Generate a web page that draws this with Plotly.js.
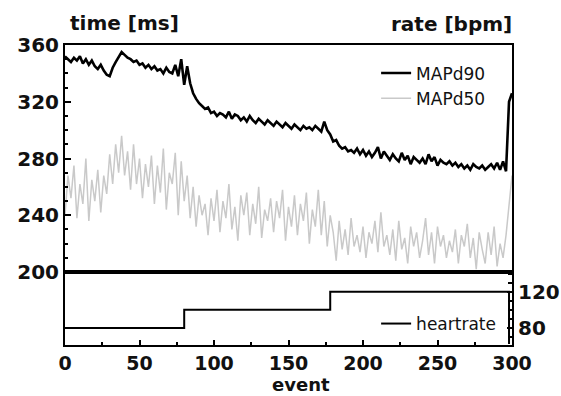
<!DOCTYPE html>
<html>
<head>
<meta charset="utf-8">
<script src="https://cdn.plot.ly/plotly-3.0.1.min.js"></script>
<style>html,body{margin:0;padding:0;background:#fff;}#chart{width:561px;height:396px;}</style>
</head>
<body>
<div id="chart"></div>
<script>
// event index (every 2nd event)
const events = [];
for (let e = 0; e <= 300; e += 2) events.push(e);

// MAPd90 [ms]
const mapd90 = [
  352,350,348,351,349,352,347,350,346,349,
  345,343,346,342,339,338,344,348,352,355,
  353,351,350,348,349,346,347,344,346,343,
  345,342,343,340,344,341,340,346,338,350,
  332,345,333,326,322,319,317,315,316,312,
  313,310,312,311,309,313,308,311,310,307,
  309,306,310,307,305,308,306,304,307,305,
  303,306,304,302,305,303,301,304,302,300,
  303,301,302,300,303,301,299,306,300,297,
  292,293,289,287,288,285,286,284,287,283,
  286,282,285,281,284,288,280,285,282,279,
  283,280,278,284,279,282,276,281,279,277,
  280,276,283,278,281,275,279,277,276,278,
  275,277,274,276,273,275,272,276,274,273,
  275,272,274,276,273,277,272,278,271,320,
  326
];

// MAPd50 [ms]
const mapd50 = [
  240,268,252,275,238,262,248,280,236,265,
  250,272,242,268,255,283,262,290,270,296,
  268,285,258,290,262,280,252,276,260,282,
  248,275,256,287,244,270,262,284,240,278,
  250,268,238,260,232,254,240,248,226,252,
  236,258,228,250,238,262,230,246,222,254,
  240,256,226,248,234,260,224,244,236,252,
  228,250,238,258,222,246,232,254,226,248,
  236,256,220,244,232,258,226,250,218,240,
  228,208,236,216,230,212,238,218,226,214,
  232,210,228,220,236,214,242,218,226,212,
  230,208,236,216,224,206,232,218,228,210,
  222,238,212,228,206,232,218,226,210,222,
  214,230,206,226,218,234,210,224,202,228,
  216,206,228,212,232,204,220,210,226,250,
  268
];

// heart rate [bpm] step changes
const hrEvents = [0, 80, 178, 298];
const heartrate = [80, 100, 120, 62];

// tick labels
const msTicks = [200, 240, 280, 320, 360];
const bpmTicks = [80, 120];
const eventTicks = [0, 50, 100, 150, 200, 250, 300];

const FONT = "DejaVu Sans, Liberation Sans, Arial, sans-serif";
const tickFont = {family: FONT, size: 20, color: "#111", weight: "bold"};
const xTickFont = {family: FONT, size: 19, color: "#111", weight: "bold"};
const titleFont = {family: FONT, size: 20, color: "#111", weight: "bold"};

const data = [
  {x: events, y: mapd50, name: "MAPd50", type: "scatter", mode: "lines", legendrank: 2,
   xaxis: "x2", yaxis: "y", line: {color: "#c9c9c9", width: 1.5}, legend: "legend"},
  {x: events, y: mapd90, name: "MAPd90", type: "scatter", mode: "lines", legendrank: 1,
   xaxis: "x2", yaxis: "y", line: {color: "#000", width: 2.6}, legend: "legend"},
  {x: hrEvents, y: heartrate, name: "heartrate", type: "scatter", mode: "lines",
   xaxis: "x", yaxis: "y2", line: {color: "#000", width: 2, shape: "hv"}, legend: "legend2"}
];

const split = 0.2433;
const layout = {
  width: 561, height: 396,
  margin: {l: 65, r: 49, t: 45, b: 51},
  paper_bgcolor: "#fff", plot_bgcolor: "#fff",
  font: {family: FONT, color: "#111"},
  xaxis: {
    domain: [0, 1], anchor: "y2", range: [0, 300],
    tickvals: eventTicks, ticks: "inside", ticklen: 5, tickwidth: 2, tickcolor: "#000",
    minor: {dtick: 25, tick0: 0, ticks: "inside", ticklen: 3, tickwidth: 2, tickcolor: "#000", showgrid: false},
    showline: true, linecolor: "#000", linewidth: 2, mirror: true,
    showgrid: false, zeroline: false, tickfont: xTickFont, ticklabelstandoff: 0
  },
  xaxis2: {
    domain: [0, 1], anchor: "y", matches: "x", range: [0, 300],
    showticklabels: false, ticks: "",
    showline: true, linecolor: "#000", linewidth: 2, mirror: true,
    showgrid: false, zeroline: false
  },
  yaxis: {
    domain: [split, 1], anchor: "x2", range: [200, 360],
    tickvals: msTicks, ticks: "inside", ticklen: 6, tickwidth: 2, tickcolor: "#000",
    minor: {dtick: 10, tick0: 200, ticks: "inside", ticklen: 3, tickwidth: 2, tickcolor: "#000", showgrid: false},
    showline: true, linecolor: "#000", linewidth: 2, mirror: true,
    showgrid: false, zeroline: false, tickfont: tickFont, ticklabelstandoff: 0
  },
  yaxis2: {
    domain: [0, split], anchor: "x", side: "right", range: [61, 142],
    tickvals: bpmTicks, ticks: "inside", ticklen: 5, tickwidth: 2, tickcolor: "#000",
    minor: {dtick: 10, tick0: 60, ticks: "inside", ticklen: 4, tickwidth: 2, tickcolor: "#000", showgrid: false},
    showline: true, linecolor: "#000", linewidth: 2, mirror: true,
    showgrid: false, zeroline: false, tickfont: tickFont, ticklabelstandoff: 0
  },
  legend: {
    x: 0.696, xanchor: "left", y: 0.965, yanchor: "top", traceorder: "normal",
    bgcolor: "rgba(0,0,0,0)", borderwidth: 0,
    font: {family: FONT, size: 17, color: "#111"}, tracegroupgap: 0
  },
  legend2: {
    x: 0.696, xanchor: "left", y: 0.13, yanchor: "top",
    bgcolor: "rgba(0,0,0,0)", borderwidth: 0,
    font: {family: FONT, size: 17, color: "#111"}
  },
  showlegend: true,
  annotations: [
    {text: "time [ms]", xref: "paper", yref: "paper", x: (68 - 65) / 447, y: (345 - 23) / 300,
     xanchor: "left", yanchor: "middle", showarrow: false, font: titleFont},
    {text: "rate [bpm]", xref: "paper", yref: "paper", x: (514 - 65) / 447, y: (345 - 24) / 300,
     xanchor: "right", yanchor: "middle", showarrow: false, font: titleFont},
    {text: "event", xref: "paper", yref: "paper", x: (301 - 65) / 447, y: (345 - 384.5) / 300,
     xanchor: "center", yanchor: "middle", borderpad: 0, showarrow: false,
     font: {family: FONT, size: 18, color: "#111", weight: "bold"}}
  ]
};

Plotly.newPlot("chart", data, layout, {staticPlot: true, displayModeBar: false});
</script>
</body>
</html>
